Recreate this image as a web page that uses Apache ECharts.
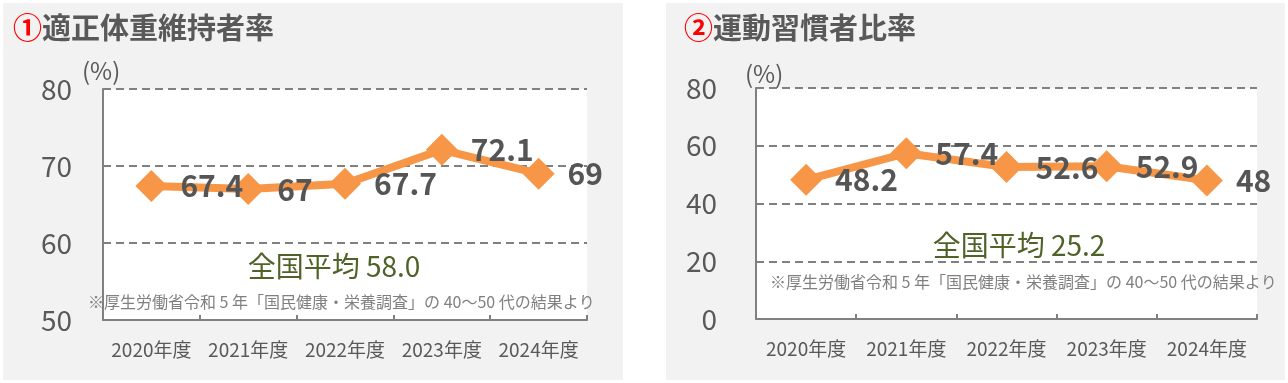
<!DOCTYPE html>
<html>
<head>
<meta charset="utf-8">
<script src="https://cdn.jsdelivr.net/npm/echarts@6/dist/echarts.min.js"></script>
<style>
html,body{margin:0;padding:0;background:#ffffff;}
#wrap{position:relative;width:1288px;height:383px;}
.panel{position:absolute;background:#F2F2F2;}
#chart{position:absolute;left:0;top:0;width:1288px;height:383px;}
</style>
</head>
<body>
<div id="wrap">
  <div class="panel" style="left:3px;top:3px;width:620px;height:377px;"></div>
  <div class="panel" style="left:666px;top:3px;width:619px;height:377px;"></div>
  <div id="chart"></div>
</div>
<script>
// ---- data ----
const categories = ['2020年度', '2021年度', '2022年度', '2023年度', '2024年度'];
const weightRate = [67.4, 67, 67.7, 72.1, 69];      // ①適正体重維持者率
const exerciseRate = [48.2, 57.4, 52.6, 52.9, 48];  // ②運動習慣者比率
const title1 = '適正体重維持者率';
const title2 = '運動習慣者比率';
const natAvg1 = '全国平均 58.0';
const natAvg2 = '全国平均 25.2';
const footnote = '※厚生労働省令和 5 年「国民健康・栄養調査」の 40～50 代の結果より';
const unitLabel = '(%)';

const FONT = '"Noto Sans CJK JP", "Noto Sans", sans-serif';
const GREY = '#595959';
const ORANGE = '#F79646';

const chart = echarts.init(document.getElementById('chart'), null, {renderer: 'canvas'});

function xAxis(gridIndex) {
  return {
    type: 'category', gridIndex: gridIndex, data: categories, boundaryGap: true,
    axisLine: {show: true, lineStyle: {color: '#808080', width: 2}},
    axisTick: {show: true, inside: true, length: 5, lineStyle: {color: '#808080', width: 2}},
    axisLabel: {color: GREY, fontSize: 19, fontFamily: FONT, margin: 20, interval: 0},
    splitLine: {show: false}
  };
}
function yAxis(gridIndex, min, max, interval, margin) {
  return {
    type: 'value', gridIndex: gridIndex, min: min, max: max, interval: interval,
    axisLine: {show: true, lineStyle: {color: '#808080', width: 2}},
    axisTick: {show: false},
    axisLabel: {color: GREY, fontSize: 28, fontFamily: FONT, margin: margin, padding: [0, 0, 9, 0]},
    splitLine: {show: true, lineStyle: {color: '#808080', width: 2, type: [8, 5]}}
  };
}
function series(idx, data) {
  return {
    type: 'line', xAxisIndex: idx, yAxisIndex: idx, data: data,
    symbol: 'diamond', symbolSize: 32,
    lineStyle: {color: ORANGE, width: 8},
    itemStyle: {color: ORANGE},
    label: {show: true, position: 'right', distance: 13, color: '#555555', fontSize: 30,
            fontWeight: 'bold', fontFamily: FONT},
    animation: false, z: 5
  };
}
function txt(x, y, text, size, color, align, weight, rich) {
  const o = {type: 'text', x: x, y: y, z: 100,
    style: {text: text, fill: color, fontSize: size, fontFamily: FONT,
            fontWeight: weight || 'normal', textAlign: align || 'left', textVerticalAlign: 'middle'}};
  if (rich) o.style.rich = rich;
  return o;
}
const titleRich = {
  c: {fill: '#FF0000', fontSize: 29, fontFamily: FONT, fontWeight: 'bold'},
  t: {fill: GREY, fontSize: 29, fontFamily: FONT, fontWeight: 'bold'}
};

const option = {
  animation: false,
  backgroundColor: 'transparent',
  grid: [
    {left: 103, top: 89, width: 484, height: 231, show: true, backgroundColor: '#ffffff', borderWidth: 0},
    {left: 756, top: 88, width: 501, height: 231, show: true, backgroundColor: '#ffffff', borderWidth: 0}
  ],
  xAxis: [xAxis(0), xAxis(1)],
  yAxis: [yAxis(0, 50, 80, 10, 31), yAxis(1, 0, 80, 20, 39)],
  series: [series(0, weightRate), series(1, exerciseRate)],
  graphic: [
    {type: 'text', x: 13, y: 28, z: 100, style: {text: '{c|①}{t|' + title1 + '}', rich: titleRich, textVerticalAlign: 'middle', fontFamily: FONT}},
    {type: 'text', x: 684, y: 28, z: 100, style: {text: '{c|②}{t|' + title2 + '}', rich: titleRich, textVerticalAlign: 'middle', fontFamily: FONT}},
    txt(82, 71, unitLabel, 24, GREY),
    txt(745, 74, unitLabel, 24, GREY),
    txt(334, 266, natAvg1, 28, '#4F6228', 'center'),
    txt(1019, 245, natAvg2, 28, '#4F6228', 'center'),
    txt(88, 302, footnote, 16, '#808080'),
    txt(770, 282, footnote, 16, '#808080')
  ]
};
chart.setOption(option);
</script>
</body>
</html>
